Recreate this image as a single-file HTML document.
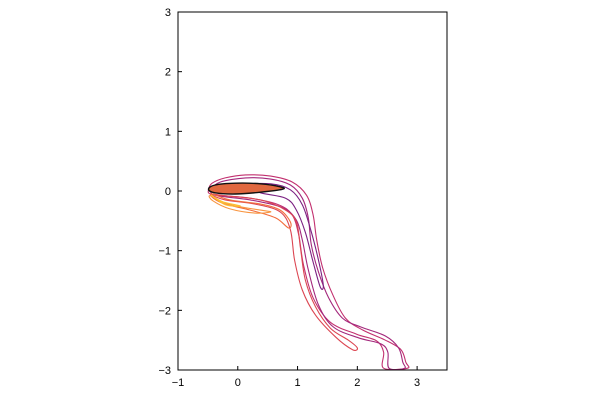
<!DOCTYPE html>
<html><head><meta charset="utf-8"><style>
body{margin:0;background:#fff;}
svg text{font-family:"Liberation Sans",sans-serif;font-size:11px;fill:#000;}
</style></head><body>
<svg id="chart" width="600" height="400" xmlns="http://www.w3.org/2000/svg">
<rect width="600" height="400" fill="#fff"/>
<g id="marks"></g>
<g id="axes"></g>
</svg>
<script>
const xTicks=[-1,0,1,2,3];
const yTicks=[-3,-2,-1,0,1,2,3];
const xDomain=[-1,3.5], yDomain=[-3,3];
const outerCurve=[[-0.49,0.02],[-0.43,0.13],[-0.21,0.22],[0.13,0.27],[0.55,0.25],[0.91,0.15],[1.15,-0.07],[1.26,-0.40],[1.32,-0.82],[1.42,-1.29],[1.59,-1.74],[1.80,-2.13],[2.09,-2.33],[2.47,-2.50],[2.73,-2.66],[2.81,-2.87],[2.84,-2.97],[2.44,-2.97],[2.44,-2.70],[2.32,-2.51],[1.99,-2.40],[1.55,-2.20],[1.26,-1.79],[1.10,-1.24],[1.02,-0.74],[0.91,-0.40],[0.68,-0.23],[0.21,-0.12],[-0.21,-0.08],[-0.46,-0.05]];
const secondCurve=[[-0.43,0.03],[-0.29,0.15],[0.13,0.22],[0.55,0.20],[0.88,0.10],[1.08,-0.12],[1.18,-0.45],[1.23,-0.90],[1.35,-1.36],[1.52,-1.79],[1.75,-2.13],[2.06,-2.28],[2.47,-2.43],[2.69,-2.63],[2.76,-2.87],[2.79,-2.97],[2.53,-2.97],[2.51,-2.70],[2.39,-2.56],[2.02,-2.46],[1.60,-2.28],[1.35,-1.91],[1.18,-1.32],[1.08,-0.82],[0.98,-0.49],[0.75,-0.28],[0.21,-0.15],[-0.38,-0.07]];
const redCurve=[[-0.46,-0.05],[-0.21,-0.15],[0.29,-0.22],[0.71,-0.35],[0.88,-0.65],[0.95,-1.16],[1.08,-1.66],[1.30,-2.08],[1.64,-2.45],[1.92,-2.66],[2.00,-2.63],[1.85,-2.50],[1.55,-2.30],[1.30,-1.94],[1.13,-1.49],[1.05,-0.96],[0.98,-0.52],[0.80,-0.32],[0.38,-0.15],[-0.21,-0.08]];
const purpleCurve=[[0.04,0.10],[0.55,0.12],[0.88,0.02],[1.08,-0.23],[1.22,-0.65],[1.35,-1.16],[1.43,-1.58],[1.38,-1.61],[1.26,-1.19],[1.13,-0.69],[0.98,-0.32],[0.80,-0.12],[0.38,-0.03]];
const orangeCurve=[[-0.43,-0.05],[-0.13,-0.15],[0.38,-0.22],[0.71,-0.32],[0.88,-0.52],[0.85,-0.62],[0.63,-0.45],[0.21,-0.32],[-0.21,-0.22],[-0.41,-0.12]];
const lightOrangeCurve=[[-0.46,-0.08],[-0.13,-0.23],[0.38,-0.32],[0.55,-0.35],[0.29,-0.37],[-0.13,-0.30],[-0.41,-0.17]];
const yellowCurve=[[-0.44,-0.07],[-0.26,-0.18],[0.04,-0.25],[-0.21,-0.23]];
const darkCurve=[[0.29,0.08],[0.55,0.10],[0.68,0.07],[0.55,0.05],[0.29,0.06]];
const airfoil=[[-0.49,0.03],[-0.38,0.10],[-0.04,0.13],[0.38,0.12],[0.71,0.07],[0.75,0.03],[0.38,-0.02],[-0.04,-0.05],[-0.38,-0.03]];
const PL={l:178,r:447,t:12,b:370};
function sx(v){return PL.l+(v-xDomain[0])/(xDomain[1]-xDomain[0])*(PL.r-PL.l);}
function sy(v){return PL.b-(v-yDomain[0])/(yDomain[1]-yDomain[0])*(PL.b-PL.t);}
const NS="http://www.w3.org/2000/svg";
function smooth(pts,closed){
  const p=pts.map(d=>[sx(d[0]),sy(d[1])]);const n=p.length;
  let s="M"+p[0][0].toFixed(1)+","+p[0][1].toFixed(1);
  const m=closed?n:n-1;
  for(let i=0;i<m;i++){
    const p0=p[(i-1+n)%n],p1=p[i],p2=p[(i+1)%n],p3=p[(i+2)%n];
    const c1=[p1[0]+(p2[0]-p0[0])/6,p1[1]+(p2[1]-p0[1])/6];
    const c2=[p2[0]-(p3[0]-p1[0])/6,p2[1]-(p3[1]-p1[1])/6];
    s+="C"+c1.map(v=>v.toFixed(1))+" "+c2.map(v=>v.toFixed(1))+" "+p2.map(v=>v.toFixed(1));
  }
  return s+(closed?"Z":"");
}
const marks=document.getElementById('marks');
function addCurve(pts,color,name,fill,w){
  const e=document.createElementNS(NS,'path');
  e.setAttribute('d',smooth(pts,true));
  e.setAttribute('fill',fill||'none');e.setAttribute('stroke',color);e.setAttribute('stroke-width',w||1.1);
  
  
  marks.appendChild(e);
}
addCurve(outerCurve,'#c2306f','contour-outer');
addCurve(secondCurve,'#a3287c','contour-second');
addCurve(redCurve,'#dc4652','contour-red');
addCurve(purpleCurve,'#7b2182','contour-purple');
addCurve(orangeCurve,'#f26d3c','contour-orange');
addCurve(lightOrangeCurve,'#f89540','contour-light-orange');
addCurve(yellowCurve,'#fcc030','contour-yellow');
addCurve(darkCurve,'#4a1272','contour-dark');
addCurve(airfoil,'#111','airfoil','#e0683f',1.4);
const axes=document.getElementById('axes');
const fr=document.createElementNS(NS,'rect');
fr.setAttribute('x',PL.l);fr.setAttribute('y',PL.t);fr.setAttribute('width',PL.r-PL.l);fr.setAttribute('height',PL.b-PL.t);
fr.setAttribute('fill','none');fr.setAttribute('stroke','#000');fr.setAttribute('stroke-width','1');


axes.appendChild(fr);
xTicks.forEach(v=>{
  const l=document.createElementNS(NS,'line');
  l.setAttribute('x1',sx(v));l.setAttribute('x2',sx(v));l.setAttribute('y1',PL.b);l.setAttribute('y2',PL.b-4);l.setAttribute('stroke','#000');
  
  
  axes.appendChild(l);
  const t=document.createElementNS(NS,'text');
  t.setAttribute('x',sx(v));t.setAttribute('y',386);t.setAttribute('text-anchor','middle');
  t.textContent=v<0?'\u2212'+Math.abs(v):String(v);
  
  
  axes.appendChild(t);
});
yTicks.forEach(v=>{
  const l=document.createElementNS(NS,'line');
  l.setAttribute('y1',sy(v));l.setAttribute('y2',sy(v));l.setAttribute('x1',PL.l);l.setAttribute('x2',PL.l+4);l.setAttribute('stroke','#000');
  
  
  axes.appendChild(l);
  const t=document.createElementNS(NS,'text');
  t.setAttribute('x',171);t.setAttribute('y',sy(v)+4);t.setAttribute('text-anchor','end');
  t.textContent=v<0?'\u2212'+Math.abs(v):String(v);
  
  
  axes.appendChild(t);
});
</script>
</body></html>
